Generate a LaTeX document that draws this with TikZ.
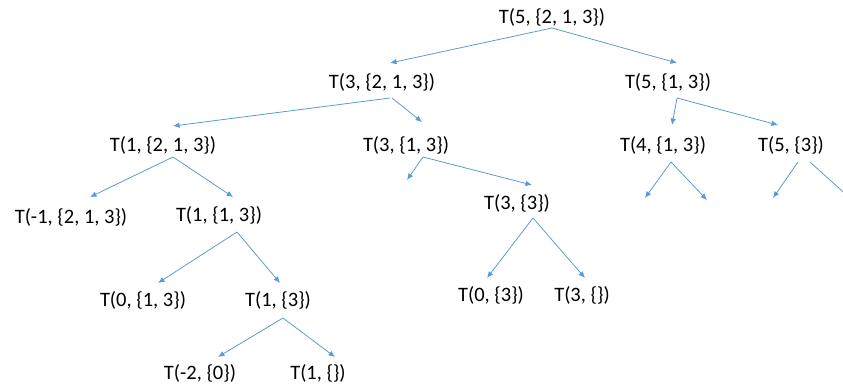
\documentclass[tikz,border=0pt]{standalone}
\usepackage{fontspec}
\setmainfont{Carlito}
\usetikzlibrary{arrows.meta}
\definecolor{edgeblue}{RGB}{91,155,213}
\tikzset{
  lbl/.style={inner sep=0pt, font=\fontsize{20.5}{24}\selectfont, text=black},
  arr/.style={draw=edgeblue, line width=0.8pt, -{Latex[length=6.5pt,width=5.5pt]}}
}
\begin{document}
\begin{tikzpicture}[x=1pt,y=-1pt]
\useasboundingbox (0,0) rectangle (843,389);
\clip (0,0) rectangle (843,389);
\node[lbl] (root) at (552,17) {T(5, \{2, 1, 3\})};
\node[lbl] (A) at (382,82) {T(3, \{2, 1, 3\})};
\node[lbl] (B) at (668,82) {T(5, \{1, 3\})};
\node[lbl] (C) at (163,145) {T(1, \{2, 1, 3\})};
\node[lbl] (D) at (406,145) {T(3, \{1, 3\})};
\node[lbl] (G) at (663,145) {T(4, \{1, 3\})};
\node[lbl] (H) at (791,145) {T(5, \{3\})};
\node[lbl] (E) at (71,217) {T(-1, \{2, 1, 3\})};
\node[lbl] (F) at (219,215) {T(1, \{1, 3\})};
\node[lbl] (I) at (517,203) {T(3, \{3\})};
\node[lbl] (L) at (143,300) {T(0, \{1, 3\})};
\node[lbl] (M) at (278,300) {T(1, \{3\})};
\node[lbl] (J) at (491,295) {T(0, \{3\})};
\node[lbl] (K) at (582,295) {T(3, \{\})};
\node[lbl] (N) at (200,373) {T(-2, \{0\})};
\node[lbl] (O) at (318,373) {T(1, \{\})};
\coordinate (d1) at (407,180);
\coordinate (g1) at (645,198);
\coordinate (g2) at (707,200);
\coordinate (h1) at (773,198);
\coordinate (h2) at (851,199);
% edges
\draw[arr] ([shift={(0,11)}]root.center) -- ([shift={(8,-19)}]A.center);
\draw[arr] ([shift={(0,11)}]root.center) -- ([shift={(9,-19)}]B.center);
\draw[arr] ([shift={(8,16)}]A.center) -- ([shift={(10,-19)}]C.center);
\draw[arr] ([shift={(10,16)}]A.center) -- ([shift={(16,-23)}]D.center);
\draw[arr] ([shift={(9,16)}]B.center) -- ([shift={(9,-20)}]G.center);
\draw[arr] ([shift={(9,16)}]B.center) -- ([shift={(-13,-20)}]H.center);
\draw[arr] ([shift={(10,12)}]C.center) -- ([shift={(19,-20)}]E.center);
\draw[arr] ([shift={(10,12)}]C.center) -- ([shift={(14,-18)}]F.center);
\draw[arr] ([shift={(17,12)}]D.center) -- (d1);
\draw[arr] ([shift={(17,12)}]D.center) -- ([shift={(15,-18)}]I.center);
\draw[arr] ([shift={(8,17)}]G.center) -- (g1);
\draw[arr] ([shift={(8,17)}]G.center) -- (g2);
\draw[arr] ([shift={(7,17)}]H.center) -- (h1);
\draw[arr] ([shift={(19,17)}]H.center) -- (h2);
\draw[arr] ([shift={(18,17)}]F.center) -- ([shift={(15,-17)}]L.center);
\draw[arr] ([shift={(18,17)}]F.center) -- ([shift={(2,-17)}]M.center);
\draw[arr] ([shift={(16,15)}]I.center) -- ([shift={(-4,-17)}]J.center);
\draw[arr] ([shift={(16,15)}]I.center) -- ([shift={(3,-17)}]K.center);
\draw[arr] ([shift={(5,18)}]M.center) -- ([shift={(18,-16)}]N.center);
\draw[arr] ([shift={(5,18)}]M.center) -- ([shift={(17,-16)}]O.center);
\end{tikzpicture}
\end{document}
